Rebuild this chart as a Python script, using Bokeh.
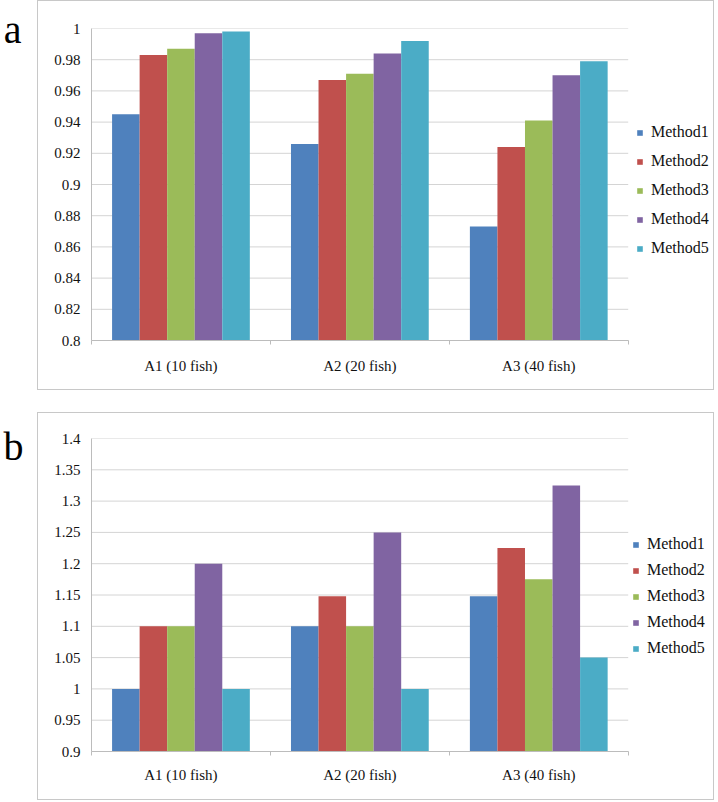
from bokeh.plotting import figure
from bokeh.layouts import column, row
from bokeh.models import (Range1d, LinearAxis, FixedTicker,
                          Legend, LegendItem, ColumnDataSource)
from bokeh.transform import dodge
from bokeh.embed import file_html
from bokeh.resources import INLINE

# ---------------- data ----------------
categories = ["A1 (10 fish)", "A2 (20 fish)", "A3 (40 fish)"]
methods = ["Method1", "Method2", "Method3", "Method4", "Method5"]
colors = ["#4F81BD", "#C0504D", "#9BBB59", "#8064A2", "#4BACC6"]

# panel a
a_method1 = [0.945, 0.926, 0.873]
a_method2 = [0.983, 0.967, 0.924]
a_method3 = [0.987, 0.971, 0.941]
a_method4 = [0.997, 0.984, 0.970]
a_method5 = [0.998, 0.992, 0.979]
a_ticks = [0.8, 0.82, 0.84, 0.86, 0.88, 0.9, 0.92, 0.94, 0.96, 0.98, 1.0]

# panel b
b_method1 = [1.0, 1.1, 1.148]
b_method2 = [1.1, 1.148, 1.225]
b_method3 = [1.1, 1.1, 1.175]
b_method4 = [1.2, 1.25, 1.325]
b_method5 = [1.0, 1.0, 1.05]
b_ticks = [0.9, 0.95, 1.0, 1.05, 1.1, 1.15, 1.2, 1.25, 1.3, 1.35, 1.4]

FONT = "'Liberation Serif', 'Times New Roman', serif"
GRID = "#d4d4d4"
AXIS = "#bcbcbc"
BOX = "#c8c8c8"
PANEL_W = 677
LETTER_W = 37
# plot area spans 535 px for the categories; frame continues to the box edge
CAT_PX = 535.0
FRAME_PX = 622.0


def letter_fig(letter, height, frame_h, pos):
    # panel letter drawn as the single label of a left axis (frames align in a row)
    f = figure(width=LETTER_W, height=height, output_backend="svg",
               toolbar_location=None, tools="",
               x_range=Range1d(0, 1), y_range=Range1d(0, frame_h),
               x_axis_location=None,
               min_border_left=22, min_border_right=0,
               min_border_top=0, min_border_bottom=0)
    f.outline_line_color = None
    f.grid.visible = False
    ax = f.yaxis[0]
    ax.ticker = FixedTicker(ticks=[pos])
    ax.major_label_overrides = {pos: letter}
    ax.axis_line_color = None
    ax.major_tick_line_color = None
    ax.minor_tick_line_color = None
    ax.major_tick_out = 0
    ax.major_tick_in = 0
    ax.minor_tick_out = 0
    ax.major_label_standoff = 1
    ax.major_label_text_font = FONT
    ax.major_label_text_font_size = "40px"
    ax.major_label_text_color = "black"
    return f


def make_panel(series, ticks, height, top, bottom, cat_standoff,
               leg_x, leg_y, leg_spacing):
    ncat = len(categories)
    p = figure(width=PANEL_W, height=height, output_backend="svg",
               toolbar_location=None, tools="",
               x_range=Range1d(0, ncat * FRAME_PX / CAT_PX),
               y_range=Range1d(ticks[0], ticks[-1]),
               x_axis_location=None,
               min_border_left=53, min_border_right=0,
               min_border_top=top, min_border_bottom=bottom,
               styles={"border": "1px solid " + BOX})
    p.outline_line_color = None
    p.background_fill_color = "white"
    p.border_fill_color = "white"
    p.xgrid.visible = False
    p.ygrid.visible = False

    # horizontal grid lines over the category area only
    p.segment(x0=0, x1=ncat, y0=ticks, y1=ticks, line_color=GRID,
              line_width=1, level="underlay")

    centers = [i + 0.5 for i in range(ncat)]
    data = {"xc": centers}
    for m, s in zip(methods, series):
        data[m] = s
    src = ColumnDataSource(data)

    n = len(methods)
    bw = 0.154
    renderers = []
    for i, (m, c) in enumerate(zip(methods, colors)):
        off = (i - (n - 1) / 2) * bw
        r = p.vbar(x=dodge("xc", off), top=m, bottom=ticks[0],
                   width=bw, source=src, fill_color=c, line_color=None)
        renderers.append(r)

    # y axis
    yt = FixedTicker(ticks=ticks)
    ya = p.yaxis[0]
    ya.ticker = yt
    ya.major_label_overrides = {t: f"{t:g}" for t in ticks}
    ya.major_tick_out = 0
    ya.major_tick_in = 0
    ya.minor_tick_line_color = None
    ya.axis_line_color = AXIS
    ya.major_label_standoff = 11
    ya.major_label_text_font = FONT
    ya.major_label_text_font_size = "15px"
    ya.major_label_text_color = "#111111"

    # separator tick axis at category boundaries
    bounds = list(range(ncat + 1))
    sa = LinearAxis(ticker=FixedTicker(ticks=bounds), bounds=(0, ncat),
                    major_label_overrides={b: "" for b in bounds},
                    major_label_text_font_size="0px", major_label_standoff=0,
                    major_tick_out=4, major_tick_in=0,
                    minor_tick_out=0, minor_tick_in=0,
                    minor_tick_line_color=None,
                    major_tick_line_color=AXIS, axis_line_color=AXIS)
    # category label axis
    ca = LinearAxis(ticker=FixedTicker(ticks=centers),
                    major_label_overrides={c: lab for c, lab in zip(centers, categories)},
                    axis_line_color=None, major_tick_line_color=None,
                    minor_tick_line_color=None,
                    major_tick_out=0, major_tick_in=0, minor_tick_out=0, minor_tick_in=0,
                    major_label_standoff=cat_standoff,
                    major_label_text_font=FONT, major_label_text_font_size="15px",
                    major_label_text_color="#111111")
    p.add_layout(sa, "below")
    p.add_layout(ca, "below")

    legend = Legend(items=[LegendItem(label=m, renderers=[r]) for m, r in zip(methods, renderers)],
                    location=(leg_x, leg_y), orientation="vertical",
                    glyph_width=7, glyph_height=7, label_standoff=8,
                    label_height=20, spacing=leg_spacing, padding=0, margin=0,
                    border_line_alpha=0, background_fill_alpha=0,
                    label_text_font=FONT, label_text_font_size="16px",
                    label_text_color="#111111")
    p.add_layout(legend, "center")
    return p


a_series = [a_method1, a_method2, a_method3, a_method4, a_method5]
b_series = [b_method1, b_method2, b_method3, b_method4, b_method5]

pa = make_panel(a_series, a_ticks, height=390, top=27, bottom=51, cat_standoff=13,
                leg_x=545, leg_y=82, leg_spacing=9)
pb = make_panel(b_series, b_ticks, height=388, top=25, bottom=50, cat_standoff=11,
                leg_x=541, leg_y=93, leg_spacing=6)
la = letter_fig("a", 390, 310, 308.5)
lb = letter_fig("b", 388, 311, 302.5)

layout = column(row(la, pa, spacing=0), row(lb, pb, spacing=0), spacing=22)
open("out.html", "w").write(file_html(layout, INLINE))
